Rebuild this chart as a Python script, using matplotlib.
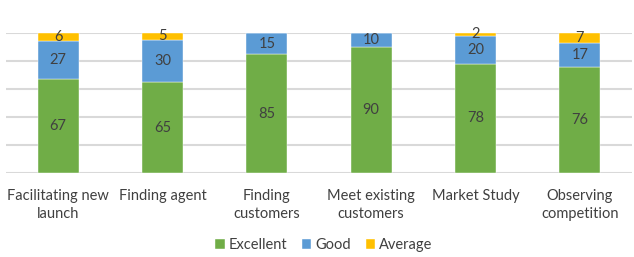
import matplotlib
matplotlib.use("Agg")
import matplotlib.pyplot as plt
import numpy as np

categories = ["Facilitating new\nlaunch", "Finding agent", "Finding\ncustomers",
              "Meet existing\ncustomers", "Market Study", "Observing\ncompetition"]
excellent = [67, 65, 85, 90, 78, 76]
good = [27, 30, 15, 10, 20, 17]
average = [6, 5, 0, 0, 2, 7]
series_names = ["Excellent", "Good", "Average"]
colors = ["#70AD47", "#5B9BD5", "#FFC000"]

plt.rcParams['font.family'] = ['Lato', 'DejaVu Sans']
fig = plt.figure(figsize=(6.34, 2.57), dpi=100)
ax = fig.add_axes([6/634, 1-173/257, 626/634, 140/257])

x = np.arange(len(categories))
bottom = np.zeros(len(categories))
for name, vals, c in zip(series_names, [excellent, good, average], colors):
    vals = np.array(vals, dtype=float)
    ax.bar(x, vals, 0.39, bottom=bottom, color=c, label=name, zorder=3,
           edgecolor='white', linewidth=0.3)
    for xi, b, v in zip(x, bottom, vals):
        if v > 0:
            ax.text(xi, b + v/2, f"{int(v)}", ha='center', va='center',
                    fontsize=10.5, color='#404040', zorder=4)
    bottom += vals

ax.set_ylim(0, 100)
ax.set_xlim(-0.5, len(categories)-0.5)
ax.set_yticks([0, 20, 40, 60, 80, 100])
ax.yaxis.grid(True, color='#D9D9D9', linewidth=1.5, zorder=0)
ax.tick_params(axis='y', left=False, labelleft=False)
ax.tick_params(axis='x', bottom=False, colors='#404040', labelsize=10.5, pad=8)
ax.set_xticks(x)
ax.set_xticklabels(categories, linespacing=1.35)
for s in ax.spines.values():
    s.set_visible(False)

handles, labels = ax.get_legend_handles_labels()
fig.legend(handles, labels, loc='center', bbox_to_anchor=(324/634, 1-245/257), ncol=3,
           frameon=False, fontsize=10.5, handlelength=0.62, handleheight=0.62,
           handletextpad=0.3, columnspacing=1.0, labelcolor='#404040')

fig.savefig("out.png", dpi=100)
